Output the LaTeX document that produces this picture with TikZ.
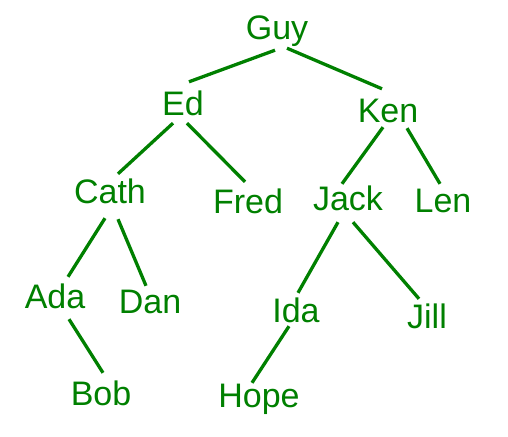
\documentclass[tikz,border=0pt]{standalone}
\usepackage{fontspec}
\setmainfont{Liberation Sans}
\usetikzlibrary{calc}
\definecolor{treegreen}{RGB}{0,128,0}
\tikzset{
  person/.style={text=treegreen, inner sep=0pt, anchor=base, text height=24pt, text depth=0pt,
    font=\fontsize{34}{40}\selectfont},
  edge/.style={draw=treegreen, line width=3.3pt}
}
\begin{document}
\begin{tikzpicture}[x=1pt,y=-1pt]
\useasboundingbox (0,0) rectangle (508,436);
\node[person] (guy) at (277,40) {Guy};
\node[person] (ed) at (183,115) {Ed};
\node[person] (ken) at (388,122) {Ken};
\node[person] (cath) at (110,203) {Cath};
\node[person] (fred) at (248,213) {Fred};
\node[person] (jack) at (348,210) {Jack};
\node[person] (len) at (443,212) {Len};
\node[person] (ada) at (55,308) {Ada};
\node[person] (dan) at (150,313) {Dan};
\node[person] (bob) at (101,405) {Bob};
\node[person] (ida) at (296,322) {Ida};
\node[person] (jill) at (427,328) {Jill};
\node[person] (hope) at (259,407) {Hope};
\draw[edge] ($(guy.south)+(-2,10)$) -- ($(ed.north)+(6,-9)$);
\draw[edge] ($(guy.south)+(10,8)$) -- ($(ken.north)+(-6,-9)$);
\draw[edge] ($(ed.south)+(-10,8)$) -- ($(cath.north)+(8,-5)$);
\draw[edge] ($(ed.south)+(4,8)$) -- ($(fred.north)+(-3,-7)$);
\draw[edge] ($(ken.south)+(-5,5)$) -- ($(jack.north)+(-6,-2)$);
\draw[edge] ($(ken.south)+(19,6)$) -- ($(len.north)+(-3,-4)$);
\draw[edge] ($(cath.south)+(-5,15)$) -- ($(ada.north)+(13,-7)$);
\draw[edge] ($(cath.south)+(8,16)$) -- ($(dan.north)+(-4,-3)$);
\draw[edge] ($(ada.south)+(14,11)$) -- ($(bob.north)+(2,-8)$);
\draw[edge] ($(jack.south)+(-10,12)$) -- ($(ida.north)+(2,-5)$);
\draw[edge] ($(jack.south)+(5,12)$) -- ($(jill.north)+(-8,-5)$);
\draw[edge] ($(ida.south)+(-7,4)$) -- ($(hope.north)+(-7,0)$);
\end{tikzpicture}
\end{document}
